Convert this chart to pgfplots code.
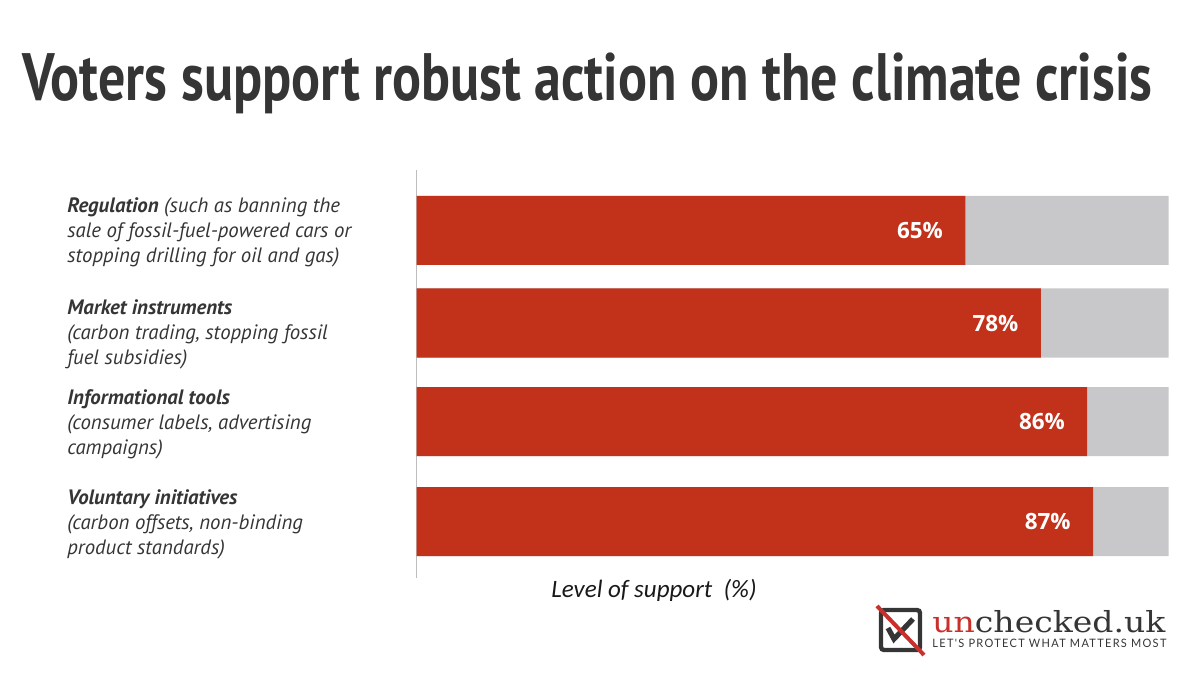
\documentclass[border=0pt]{standalone}
\usepackage{fontspec}
\usepackage{graphicx}
\usepackage{pgfplots}
\usepackage{pgfplotstable}
\pgfplotsset{compat=1.18}
\setmainfont{PT Sans}
\newfontfamily\pctfont{Open Sans}
\newfontfamily\axfont{Carlito}
\newfontfamily\logofont{DejaVu Serif}
\newfontfamily\tagfont{Lato}[LetterSpace=12]
\definecolor{barred}{HTML}{C2321A}
\definecolor{bargrey}{HTML}{C8C8CA}
\definecolor{txt}{HTML}{353535}
\definecolor{axgrey}{HTML}{BDBDBD}
\definecolor{logored}{HTML}{C9302C}
\pgfplotstableread{
pos v full
230.5 65 100
323 78 100
421.5 86 100
521.5 87 100
}\datatable
\begin{document}
\begin{tikzpicture}
\path[use as bounding box] (0,0) rectangle (600pt,337.5pt);
\begin{axis}[
  at={(208.25pt,48.5pt)}, anchor=south west,
  scale only axis, width=376pt, height=204pt,
  xmin=0, xmax=129.5, ymin=170, ymax=578, y dir=reverse,
  axis x line=none, axis y line*=left,
  y axis line style={axgrey, line width=0.6pt},
  xtick=\empty, ytick=\empty,
  clip=false,
  /pgf/number format/assume math mode=true,
]
\addplot[xbar, bar width=69, bar shift=0pt, fill=bargrey, draw=none]
  table[x expr=\thisrow{full}+29.5, y=pos]{\datatable};
\addplot[xbar, bar width=69, bar shift=0pt, fill=barred, draw=none,
  point meta=explicit,
  nodes near coords={\pctfont\bfseries\fontsize{11.2}{13}\selectfont\pgfmathprintnumber{\pgfplotspointmeta}\%},
  every node near coord/.append style={anchor=east, inner sep=0pt, xshift=-11pt, text=white}]
  table[x expr=\thisrow{v}+29.5, y=pos, meta=v]{\datatable};
\end{axis}
\begin{scope}[x=0.5pt,y=-0.5pt,yshift=337.5pt]
% title
\node[anchor=base west, inner sep=0pt, text=txt] at (22,101)
  {\resizebox{565pt}{\height}{\fontsize{33.5}{40}\selectfont\bfseries Voters support robust action on the climate crisis}};
% category labels
\begin{scope}[every node/.style={anchor=base west, inner sep=0pt, text=txt, font=\fontsize{10.4}{12}\selectfont\itshape}]
\node at (67,213) {\textbf{Regulation} (such as banning the};
\node at (67,238) {sale of fossil-fuel-powered cars or};
\node at (67,263) {stopping drilling for oil and gas)};
\node at (67,315) {\textbf{Market instruments}};
\node at (67,340) {(carbon trading, stopping fossil};
\node at (67,365) {fuel subsidies)};
\node at (67,405) {\textbf{Informational tools}};
\node at (67,430) {(consumer labels, advertising};
\node at (67,455) {campaigns)};
\node at (67,505) {\textbf{Voluntary initiatives}};
\node at (67,530) {(carbon offsets, non-binding};
\node at (67,555) {product standards)};
\end{scope}
% axis label
\node[anchor=base, inner sep=0pt, text=black!90] at (654,598)
  {\axfont\itshape\fontsize{12.5}{14}\selectfont Level of support\ \ (\%)};
% logo
\draw[line width=2.2pt, color=txt, rounded corners=1.5pt] (881,610) rectangle (920,650);
\draw[line width=2.6pt, color=txt] (888,628) -- (894,639) -- (913,619);
\draw[line width=2pt, color=logored] (877,606) -- (924,655);
\node[anchor=base west, inner sep=0pt, text=txt] at (932,633)
  {\resizebox{116.5pt}{\height}{\logofont\fontsize{14.5}{17}\selectfont\textcolor{logored}{un}checked.uk}};
\node[anchor=base west, inner sep=0pt, text=txt] at (932,648)
  {\resizebox{117pt}{\height}{\tagfont\fontsize{5.8}{7}\selectfont LET'S PROTECT WHAT MATTERS MOST}};
\end{scope}
\end{tikzpicture}
\end{document}
